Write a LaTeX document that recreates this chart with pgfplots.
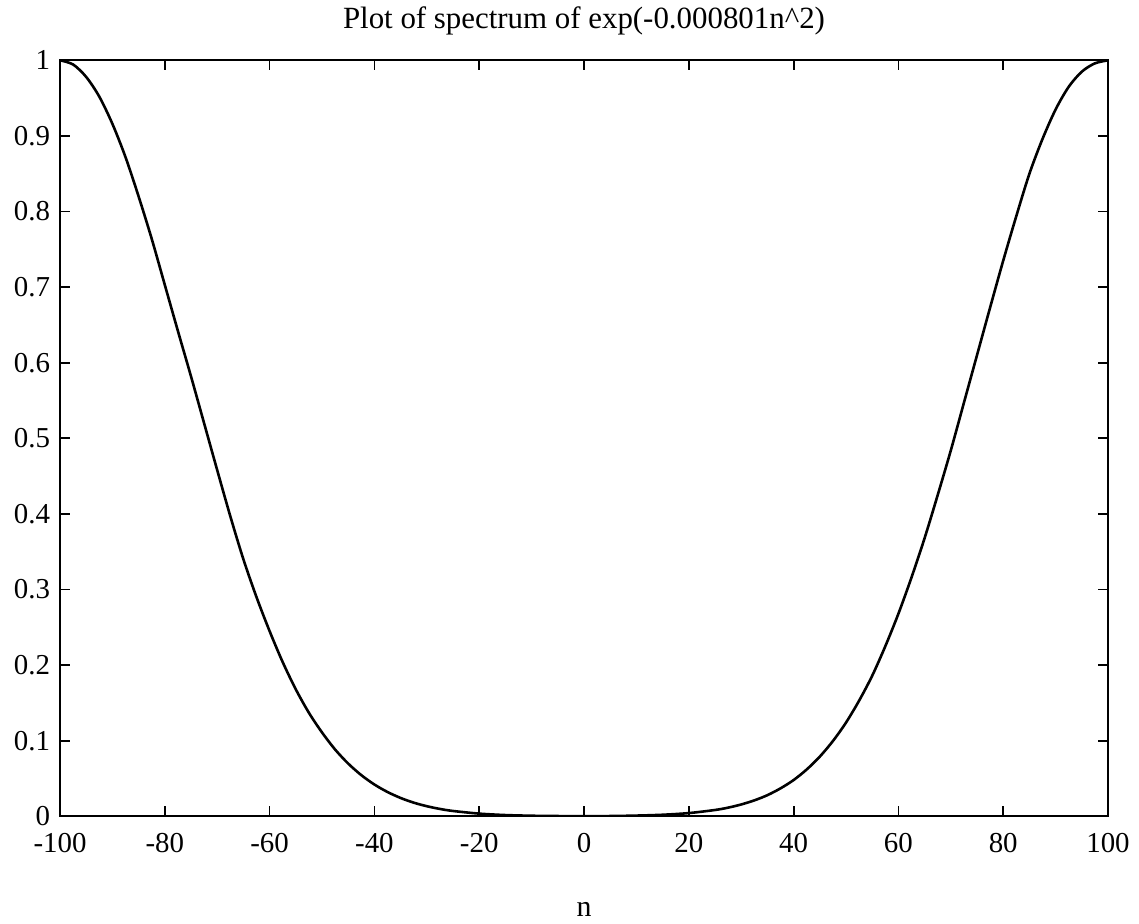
\documentclass[border=0pt]{standalone}
\usepackage{fontspec}
\setmainfont{Liberation Serif}
\usepackage{pgfplots}
\pgfplotsset{compat=1.18}
\begin{document}
\begin{tikzpicture}
\begin{axis}[
  scale only axis,
  width=524bp, height=378bp,
  xmin=-100, xmax=100, ymin=0, ymax=1,
  xtick={-100,-80,-60,-40,-20,0,20,40,60,80,100},
  xticklabels={-100,-80,-60,-40,-20,0,20,40,60,80,100},
  ytick={0,0.1,0.2,0.3,0.4,0.5,0.6,0.7,0.8,0.9,1},
  yticklabels={0,0.1,0.2,0.3,0.4,0.5,0.6,0.7,0.8,0.9,1},
  tick align=inside,
  major tick length=5bp,
  tick style={black, line width=0.9pt},
  axis line style={black, line width=1.1pt},
  ticklabel style={font=\fontsize{14.5}{16}\selectfont, inner sep=1bp},
  yticklabel style={xshift=-3.8bp},
  xticklabel style={yshift=-7.5bp},
  title={Plot of spectrum of exp(-0.000801n\textasciicircum 2)},
  title style={font=\fontsize{15.5}{17}\selectfont, at={(axis description cs:0.5,1)}, anchor=base, yshift=10bp},
  xlabel={n},
  xlabel style={font=\fontsize{15}{16}\selectfont, at={(axis description cs:0.5,0)}, anchor=base, yshift=-50bp},
  clip=true,
]
\addplot[black, line width=1.3pt, smooth, tension=0.5] coordinates {
(-100,1.000) (-97.5,0.9945) (-95,0.978) (-92.5,0.952) (-90,0.916) (-87.5,0.872)
(-85,0.820) (-82.5,0.764) (-80,0.703) (-77.5,0.642) (-75,0.582) (-72.5,0.520)
(-70,0.458) (-67.5,0.397) (-65,0.340) (-62.5,0.290) (-60,0.245) (-57.5,0.204)
(-55,0.168) (-52.5,0.137) (-50,0.111) (-47.5,0.0884) (-45,0.0698) (-42.5,0.0545)
(-40,0.0421) (-37.5,0.0322) (-35,0.0243) (-32.5,0.0181) (-30,0.0134) (-27.5,0.0098)
(-25,0.0071) (-20,0.0036) (-15,0.0017) (-10,0.0008) (-5,0.0004) (0,0.0002)
(5,0.0004) (10,0.0010) (15,0.0021) (20,0.0043) (25,0.0084) (27.5,0.0115)
(30,0.0157) (32.5,0.0211) (35,0.028) (37.5,0.037) (40,0.048) (42.5,0.062)
(45,0.079) (47.5,0.0996) (50,0.124) (52.5,0.153) (55,0.186) (57.5,0.225)
(60,0.268) (62.5,0.316) (65,0.368) (67.5,0.425) (70,0.484) (72.5,0.547)
(75,0.610) (77.5,0.673) (80,0.735) (82.5,0.794) (85,0.850) (87.5,0.896)
(90,0.935) (92.5,0.965) (95,0.985) (97.5,0.996) (100,1.000)
};
\end{axis}
\path (current axis.south west) ++(-30bp,-53.5bp) coordinate (bl);
\path (current axis.north east) ++(15.5bp,27.5bp) coordinate (tr);
\path[use as bounding box] (bl) rectangle (tr);
\end{tikzpicture}
\end{document}
